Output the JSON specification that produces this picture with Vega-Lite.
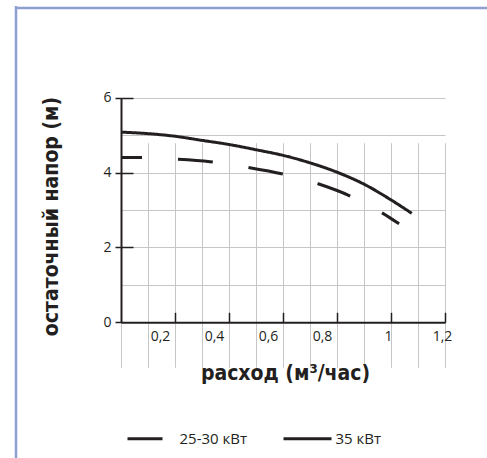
{
  "$schema": "https://vega.github.io/schema/vega-lite/v6.json",
  "width": 471,
  "height": 451,
  "autosize": {"type": "none"},
  "padding": {"left": 16, "top": 7, "right": 0, "bottom": 0},
  "background": "white",
  "config": {
    "view": {"stroke": null},
    "axis": {"labelFont": "Open Sans", "labelFontSize": 14, "labelColor": "#231f20", "titleFont": "Liberation Sans Narrow, DejaVu Sans Condensed, sans-serif", "titleFontWeight": "bold", "titleColor": "#231f20", "labelFlush": false, "labelOverlap": false}
  },
  "data": {
    "values": [
      {"series": "35 кВт", "x": 0, "y": 5.08},
      {"series": "35 кВт", "x": 0.1, "y": 5.04},
      {"series": "35 кВт", "x": 0.2, "y": 4.97},
      {"series": "35 кВт", "x": 0.3, "y": 4.86},
      {"series": "35 кВт", "x": 0.4, "y": 4.75},
      {"series": "35 кВт", "x": 0.5, "y": 4.61},
      {"series": "35 кВт", "x": 0.6, "y": 4.46},
      {"series": "35 кВт", "x": 0.7, "y": 4.26},
      {"series": "35 кВт", "x": 0.8, "y": 4.01},
      {"series": "35 кВт", "x": 0.9, "y": 3.69},
      {"series": "35 кВт", "x": 1.0, "y": 3.27},
      {"series": "35 кВт", "x": 1.077, "y": 2.91},
      {"series": "25-30 кВт", "x": 0, "y": 4.4},
      {"series": "25-30 кВт", "x": 0.07, "y": 4.4},
      {"series": "25-30 кВт", "x": 0.2, "y": 4.36},
      {"series": "25-30 кВт", "x": 0.33, "y": 4.29},
      {"series": "25-30 кВт", "x": 0.47, "y": 4.14},
      {"series": "25-30 кВт", "x": 0.6, "y": 3.96},
      {"series": "25-30 кВт", "x": 0.73, "y": 3.7},
      {"series": "25-30 кВт", "x": 0.85, "y": 3.37},
      {"series": "25-30 кВт", "x": 0.97, "y": 2.91},
      {"series": "25-30 кВт", "x": 1.03, "y": 2.63}
    ]
  },
  "layer": [
    {
      "mark": {"type": "line", "opacity": 0},
      "encoding": {
        "x": {
          "field": "x", "type": "quantitative",
          "scale": {"domain": [0, 1], "range": [0, 471], "nice": false, "zero": false},
          "axis": {"orient": "top", "offset": -1, "translate": 0, "domain": true, "domainColor": "#8f9fd1", "domainWidth": 2.5, "ticks": false, "labels": false, "grid": false, "title": null}
        },
        "y": {
          "field": "y", "type": "quantitative",
          "scale": {"domain": [0, 1], "range": [451, -1], "nice": false, "zero": false},
          "axis": {"orient": "left", "offset": 0, "translate": 0, "domain": true, "domainColor": "#8f9fd1", "domainWidth": 2.5, "ticks": false, "labels": false, "grid": false, "title": null}
        },
        "detail": {"field": "series"}
      }
    },
    {
      "mark": {"type": "line", "interpolate": "monotone", "strokeWidth": 3, "color": "#231f20", "strokeDashOffset": 14},
      "encoding": {
        "x": {
          "field": "x", "type": "quantitative",
          "scale": {"domain": [0, 1.2], "range": [105, 429], "nice": false, "zero": false},
          "axis": {
            "orient": "bottom", "offset": -135.7,
            "values": [0, 0.1, 0.2, 0.3, 0.4, 0.5, 0.6, 0.7, 0.8, 0.9, 1, 1.1, 1.2],
            "grid": true, "gridColor": "#c6c6c6", "gridWidth": 1,
            "domainColor": "#231f20", "domainWidth": 2,
            "tickSize": -10, "tickWidth": 1.5,
            "tickColor": {"condition": {"test": "datum.value > 0.05 && abs(datum.value * 5 - round(datum.value * 5)) < 0.01", "value": "#231f20"}, "value": "transparent"},
            "labelExpr": "(datum.value > 0.05 && abs(datum.value * 5 - round(datum.value * 5)) < 0.01) ? replace(format(datum.value, '~g'), '.', ',') : ''",
            "labelOffset": {"condition": {"test": "datum.value < 0.9", "value": -15}, "value": -3},
            "labelPadding": 17,
            "title": "расход (м³/час)", "titleFontSize": 21, "titleX": 269, "titleY": 40, "titleAlign": "center", "titleBaseline": "top"
          }
        },
        "y": {
          "field": "y", "type": "quantitative",
          "scale": {"domain": [0, 6], "range": [315.3, 90.7], "nice": false, "zero": false},
          "axis": {
            "orient": "left", "offset": -105,
            "values": [0, 1, 2, 3, 4, 5, 6],
            "grid": true, "gridColor": "#c6c6c6", "gridWidth": 1,
            "domainColor": "#231f20", "domainWidth": 2,
            "tickSize": 6, "tickWidth": 1.5,
            "tickColor": {"condition": {"test": "datum.value % 2 == 0", "value": "#231f20"}, "value": "transparent"},
            "labelExpr": "datum.value % 2 == 0 ? format(datum.value, 'd') : ''",
            "labelPadding": 4,
            "title": "остаточный напор (м)", "titleFontSize": 21, "titleX": -60, "titleY": 209, "titleAngle": -90, "titleAlign": "center", "titleBaseline": "bottom"
          }
        },
        "strokeDash": {
          "field": "series", "type": "nominal",
          "scale": {"domain": ["25-30 кВт", "35 кВт"], "range": [[35, 36], [1, 0]]},
          "legend": {
            "orient": "none", "legendX": 110, "legendY": 406, "direction": "horizontal", "title": null,
            "symbolType": "stroke", "symbolSize": 2304, "symbolStrokeWidth": 3, "symbolStrokeColor": "#231f20",
            "symbolDashOffset": 0,
            "labelFont": "Open Sans", "labelFontSize": 15, "labelColor": "#231f20", "labelOffset": 2.5,
            "columnPadding": 29, "padding": 0,
            "encode": {"symbols": {"update": {"strokeDash": {"signal": "datum.value == '25-30 кВт' ? [12.5, 12.5] : [1, 0]"}}}}
          }
        }
      }
    },
    {
      "mark": {"type": "line", "opacity": 0},
      "encoding": {
        "x": {
          "field": "x", "type": "quantitative",
          "scale": {"domain": [0, 1.2], "range": [105, 429], "nice": false, "zero": false},
          "axis": null
        },
        "y": {
          "field": "y", "type": "quantitative",
          "scale": {"domain": [0, 6], "range": [315.3, 90.7], "nice": false, "zero": false},
          "axis": {"orient": "left", "offset": -105, "values": [2, 4, 6], "labels": false, "domain": false, "grid": false, "tickSize": -12, "tickWidth": 1.5, "tickColor": "#231f20", "title": null}
        },
        "detail": {"field": "series"}
      }
    }
  ],
  "resolve": {"scale": {"x": "independent", "y": "independent"}, "axis": {"x": "independent", "y": "independent"}}
}
